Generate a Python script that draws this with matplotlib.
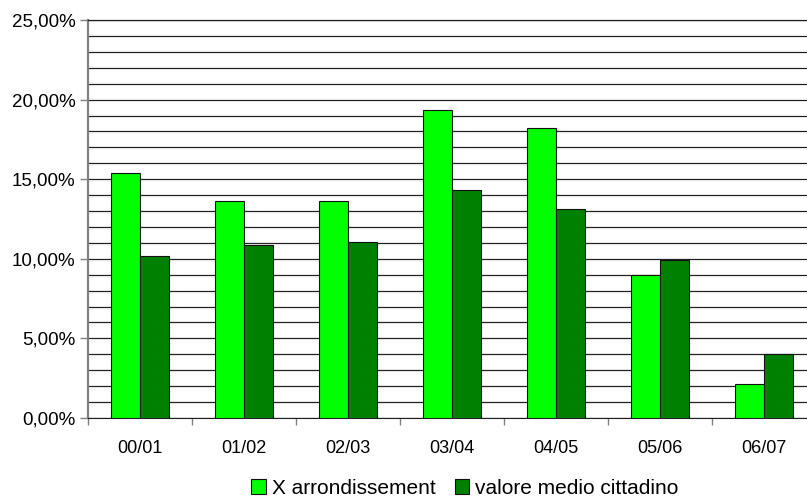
import matplotlib
matplotlib.use("Agg")
import matplotlib.pyplot as plt
from matplotlib.patches import Patch
from matplotlib.ticker import FuncFormatter, MultipleLocator
import numpy as np

plt.rcParams['font.family'] = ['Liberation Sans', 'DejaVu Sans']

categories = ["00/01", "01/02", "02/03", "03/04", "04/05", "05/06", "06/07"]
arrondissement = [15.4, 13.6, 13.65, 19.35, 18.2, 9.0, 2.15]
medio_cittadino = [10.2, 10.85, 11.05, 14.35, 13.1, 9.95, 4.0]
series_names = ["X arrondissement", "valore medio cittadino"]
colors = ["#00FF00", "#008000"]

fig = plt.figure(figsize=(8.07, 4.97), dpi=100)
W, H = 807, 497
ax = fig.add_axes([88 / W, (H - 418) / H, 728 / W, 398 / H])

x = np.arange(len(categories))
bw = 0.275
ax.bar(x - bw / 2, arrondissement, bw, color=colors[0], edgecolor="#111111", linewidth=0.8, zorder=3)
ax.bar(x + bw / 2, medio_cittadino, bw, color=colors[1], edgecolor="#111111", linewidth=0.8, zorder=3)

ax.set_xlim(-0.5, len(categories) - 0.5)
ax.set_ylim(0, 25)

# y axis: labelled every 5%, gridlines every 1%
ax.yaxis.set_major_locator(MultipleLocator(5))
ax.yaxis.set_minor_locator(MultipleLocator(1))
ax.yaxis.set_major_formatter(FuncFormatter(lambda v, p: f"{v:.2f}%".replace(".", ",")))
ax.grid(True, axis="y", which="both", color="#222222", linewidth=0.9, zorder=0)
ax.tick_params(axis="y", which="major", direction="out", length=6, width=1, color="#808080",
               labelsize=13.5, pad=3)
ax.tick_params(axis="y", which="minor", length=0)

# x axis: tick marks between categories, labels at centres
ax.set_xticks(np.arange(-0.5, len(categories), 1.0))
ax.set_xticklabels([])
ax.set_xticks(x, minor=True)
ax.set_xticklabels(categories, minor=True)
ax.tick_params(axis="x", which="major", direction="out", length=5, width=1, color="#808080")
ax.tick_params(axis="x", which="minor", length=0, labelsize=13, pad=16)

ax.spines["left"].set_color("#808080")
ax.spines["left"].set_linewidth(1.6)
ax.spines["bottom"].set_color("#222222")
ax.spines["top"].set_color("#222222")
ax.spines["top"].set_linewidth(0.9)
ax.spines["right"].set_visible(False)

handles = [Patch(facecolor=c, edgecolor="#111111", linewidth=0.8) for c in colors]
fig.legend(handles, series_names, loc="center", bbox_to_anchor=(465 / W, 1 - 488 / H), ncol=2,
           frameon=False, fontsize=15, handlelength=0.7, handleheight=0.7, handletextpad=0.3,
           columnspacing=0.9, borderpad=0)

fig.savefig("out.png", dpi=100)
